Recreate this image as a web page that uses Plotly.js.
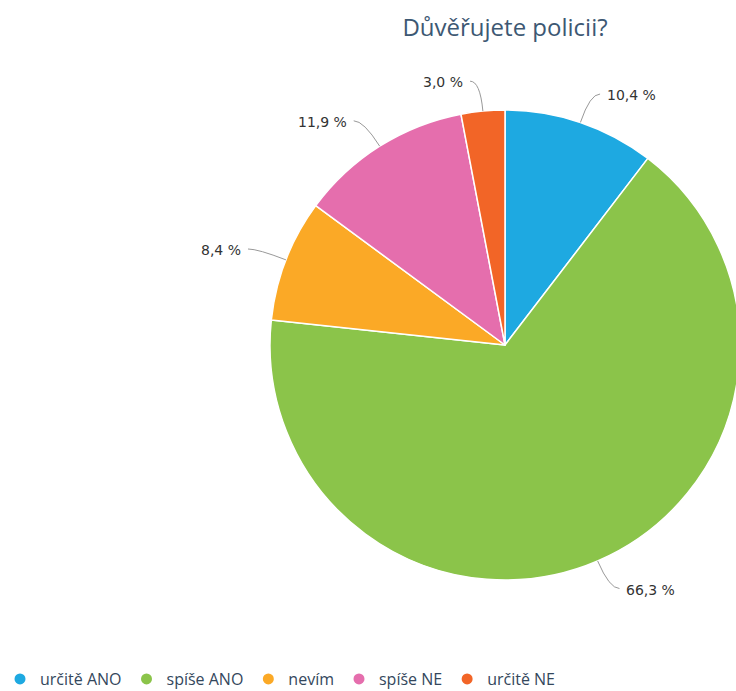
<!DOCTYPE html>
<html>
<head>
<meta charset="utf-8">
<script src="https://cdn.plot.ly/plotly-3.0.1.min.js"></script>
<style>
html, body { margin: 0; padding: 0; overflow: hidden; background: #fff; }
#chart { width: 750px; height: 696px; }
</style>
</head>
<body>
<div id="chart"></div>
<script>
const categories = ['určitě ANO', 'spíše ANO', 'nevím', 'spíše NE', 'určitě NE'];
const values = [10.4, 66.3, 8.4, 11.9, 3.0];
const colors = ['#1ea9e1', '#8bc44a', '#fba926', '#e56ead', '#f26527'];
const chartTitle = 'Důvěřujete policii?';

const W = 750, H = 696;
const cx = 505, cy = 345, R = 235;
const labelDist = 30, hookLen = 10, labelGap = 5;

const px = x => x / W;
const py = y => 1 - y / H;

const traces = [{
  type: 'pie',
  labels: categories,
  values: values,
  marker: { colors: colors, line: { color: '#ffffff', width: 1.5 } },
  sort: false,
  direction: 'clockwise',
  rotation: 0,
  textinfo: 'none',
  hoverinfo: 'none',
  showlegend: false,
  domain: { x: [px(cx - R), px(cx + R)], y: [py(cy + R), py(cy - R)] }
}];

categories.forEach((c, i) => {
  traces.push({
    type: 'scatter', mode: 'markers', x: [null], y: [null],
    name: c, marker: { color: colors[i], size: 11, symbol: 'circle' },
    hoverinfo: 'none', showlegend: true
  });
});

const total = values.reduce((a, b) => a + b, 0);
const shapes = [];
const annotations = [];
let cum = 0;
values.forEach((v, i) => {
  const th = (cum + v / 2) / total * 2 * Math.PI;
  cum += v;
  const s = Math.sin(th), co = Math.cos(th);
  const x0 = cx + R * s, y0 = cy - R * co;
  const x1 = cx + (R + labelDist) * s, y1 = cy - (R + labelDist) * co;
  const right = s >= 0;
  const x2 = x1 + (right ? hookLen : -hookLen), y2 = y1;
  shapes.push({
    type: 'path', xref: 'paper', yref: 'paper',
    path: `M ${px(x0)},${py(y0)} Q ${px(x1)},${py(y1)} ${px(x2)},${py(y2)}`,
    line: { color: '#999999', width: 1 }
  });
  annotations.push({
    xref: 'paper', yref: 'paper',
    x: px(x2 + (right ? labelGap : -labelGap)), y: py(y2 + 1),
    xanchor: right ? 'left' : 'right', yanchor: 'middle',
    text: v.toFixed(1).replace('.', ',') + ' %',
    showarrow: false,
    font: { family: 'DejaVu Sans', size: 14, color: '#333333' }
  });
});

const layout = {
  width: W, height: H,
  margin: { l: 0, r: 0, t: 0, b: 0 },
  paper_bgcolor: '#ffffff', plot_bgcolor: '#ffffff',
  title: {
    text: chartTitle,
    x: px(cx), xanchor: 'center', xref: 'paper',
    y: py(28), yanchor: 'middle', yref: 'paper',
    font: { family: 'Open Sans', size: 24, color: '#3d5873' }
  },
  xaxis: { visible: false },
  yaxis: { visible: false },
  showlegend: true,
  legend: {
    orientation: 'h',
    x: 0, xanchor: 'left',
    y: 0, yanchor: 'bottom',
    bgcolor: 'rgba(0,0,0,0)',
    font: { family: 'Open Sans', size: 16, color: '#34475c' },
    itemclick: false, itemdoubleclick: false
  },
  shapes: shapes,
  annotations: annotations,
  hovermode: false
};

Plotly.newPlot('chart', traces, layout, { displayModeBar: false, staticPlot: true });
</script>
</body>
</html>
